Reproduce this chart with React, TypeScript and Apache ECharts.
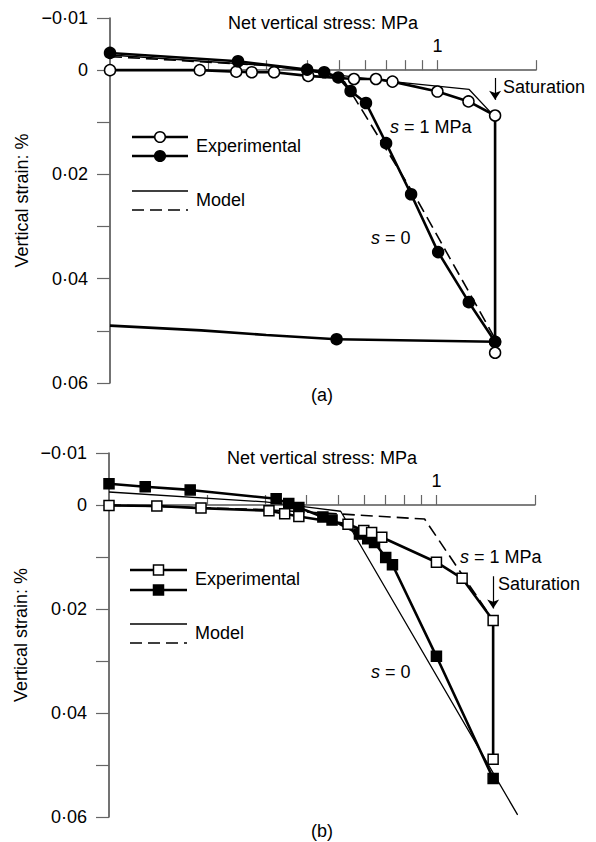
import React, { useEffect, useRef } from "react";
import * as echarts from "echarts";

const FONT = "'Liberation Sans', Arial, Helvetica, sans-serif";

// ---- axes ----
const X_MIN = 0.1;
const X_MAX = 2;
const Y_MIN = -0.01;
const Y_MAX = 0.06;
const Y_STEP = 0.01;
const xTickValues = [0.2, 0.3, 0.4, 0.5, 0.6, 0.7, 0.8, 0.9, 1, 2];
const xLabelValues = [1];
const yLabelValues = [-0.01, 0, 0.02, 0.04, 0.06];
const yLabelTexts = ["\u22120\u00b701", "0", "0\u00b702", "0\u00b704", "0\u00b706"];

// ---- panel (a) ----
const aOpenX = [0.1, 0.188, 0.243, 0.271, 0.317, 0.403, 0.556, 0.649, 0.729, 1.0, 1.244, 1.5, 1.5];
const aOpenY = [0, 0, 0.0003, 0.0004, 0.0004, 0.0011, 0.0017, 0.0017, 0.0022, 0.0041, 0.006, 0.0087, 0.0542];
const aFilledX = [0.1, 0.246, 0.4, 0.451, 0.498, 0.543, 0.605, 0.697, 0.831, 1.005, 1.247, 1.5];
const aFilledY = [-0.0033, -0.0017, -0.0001, 0.0004, 0.0014, 0.004, 0.0063, 0.014, 0.0238, 0.0349, 0.0445, 0.0521];
const aUnloadX = [1.5, 0.492];
const aUnloadY = [0.0521, 0.0516];
const aUnloadExtX = [0.492, 0.3, 0.19, 0.1];
const aUnloadExtY = [0.0516, 0.0508, 0.0499, 0.049];
const aModelSolidX = [0.1, 0.3, 0.45, 0.73, 1.25, 1.5];
const aModelSolidY = [-0.0029, -0.0009, 0.0006, 0.0022, 0.0037, 0.009];
const aModelDashX = [0.1, 0.3, 0.45, 0.52, 0.855, 1.5];
const aModelDashY = [-0.0026, -0.0009, 0.0003, 0.0022, 0.0242, 0.0515];
const aSaturation = { x: 1.5, from: 0.0015, to: 0.0057 };

// ---- panel (b) ----
const bOpenX = [0.1, 0.14, 0.191, 0.308, 0.344, 0.38, 0.537, 0.6, 0.634, 0.681, 1.0, 1.198, 1.49, 1.49];
const bOpenY = [0.0001, 0.0002, 0.0006, 0.0011, 0.0017, 0.0022, 0.0037, 0.0049, 0.0053, 0.0062, 0.011, 0.0141, 0.0222, 0.0489];
const bFilledX = [0.1, 0.129, 0.177, 0.324, 0.354, 0.38, 0.45, 0.48, 0.582, 0.617, 0.647, 0.7, 0.734, 1.0, 1.49];
const bFilledY = [-0.0041, -0.0035, -0.0029, -0.0012, -0.0003, 0.0005, 0.0023, 0.0029, 0.0056, 0.0065, 0.0072, 0.0101, 0.0115, 0.0291, 0.0526];
const bModelSolidX = [0.1, 0.3, 0.51, 1.77];
const bModelSolidY = [-0.0025, -0.0006, 0.0012, 0.0596];
const bModelDashX = [0.1, 0.3, 0.5, 0.92, 1.49];
const bModelDashY = [0.0, 0.0009, 0.0017, 0.0027, 0.0222];
const bSaturation = { x: 1.49, from: 0.0137, to: 0.0199 };

const pairs = (xs: number[], ys: number[]) => xs.map((x, i) => [x, ys[i]]);

const GRIDS = [
  { left: 110, top: 18, width: 426, height: 365 },
  { left: 109, top: 453, width: 426, height: 364 },
];

function xAxisCfg(i: number) {
  const g = GRIDS[i];
  const offset = -g.height * (0 - Y_MIN) / (Y_MAX - Y_MIN);
  return {
    type: "log",
    logBase: 10,
    gridIndex: i,
    min: X_MIN,
    max: X_MAX,
    position: "top",
    offset,
    name: "Net vertical stress: MPa",
    nameLocation: "middle",
    nameGap: 38,
    nameTextStyle: { fontSize: 18, color: "#000", fontFamily: FONT },
    axisLine: { show: true, onZero: false, lineStyle: { color: "#555", width: 1.5 } },
    axisTick: { show: true, inside: false, length: 10, customValues: xTickValues, lineStyle: { color: "#666", width: 1.2 } },
    minorTick: { show: false },
    axisLabel: {
      show: true,
      customValues: xLabelValues,
      margin: 15,
      fontSize: 18,
      color: "#000",
      fontFamily: FONT,
      formatter: (v: number) => String(v),
    },
    splitLine: { show: false },
  };
}

function yAxisCfg(i: number) {
  return {
    type: "value",
    gridIndex: i,
    inverse: true,
    min: Y_MIN,
    max: Y_MAX,
    interval: Y_STEP,
    position: "left",
    name: "Vertical strain: %",
    nameLocation: "middle",
    nameGap: 79,
    nameRotate: 90,
    nameTextStyle: { fontSize: 18, color: "#000", fontFamily: FONT },
    axisLine: { show: true, onZero: false, lineStyle: { color: "#444", width: 1.5 } },
    axisTick: { show: true, length: 13, lineStyle: { color: "#666", width: 1.2 } },
    axisLabel: {
      margin: 22,
      fontSize: 18,
      color: "#000",
      fontFamily: FONT,
      formatter: (v: number) => {
        const k = yLabelValues.findIndex((t) => Math.abs(t - v) < 1e-9);
        return k >= 0 ? yLabelTexts[k] : "";
      },
    },
    splitLine: { show: false },
  };
}

function expSeries(i: number, xs: number[], ys: number[], symbol: string, filled: boolean, extra: any = {}) {
  return {
    type: "line",
    xAxisIndex: i,
    yAxisIndex: i,
    data: pairs(xs, ys),
    symbol,
    symbolSize: symbol === "rect" ? 10 : 11,
    showSymbol: true,
    showAllSymbol: true,
    clip: false,
    z: 5,
    lineStyle: { color: "#000", width: 2.6 },
    itemStyle: { color: filled ? "#000" : "#fff", borderColor: "#000", borderWidth: 1.5 },
    ...extra,
  };
}

function plainSeries(i: number, xs: number[], ys: number[], width: number, dashed: boolean) {
  return {
    type: "line",
    xAxisIndex: i,
    yAxisIndex: i,
    data: pairs(xs, ys),
    symbol: "none",
    clip: false,
    z: 3,
    lineStyle: { color: "#000", width, type: dashed ? [12, 6] : "solid" },
  };
}

function satMark(s: { x: number; from: number; to: number }) {
  return {
    silent: true,
    symbol: ["none", "arrow"],
    symbolSize: 9,
    label: { show: false },
    lineStyle: { color: "#000", width: 1.2, type: "solid" },
    data: [[{ coord: [s.x, s.from] }, { coord: [s.x, s.to] }]],
  };
}

const txt = (x: number, y: number, text: string, align = "left", rich = false) => ({
  type: "text",
  x,
  y,
  style: {
    text,
    fill: "#000",
    fontSize: 18,
    fontFamily: FONT,
    align,
    verticalAlign: "middle",
    ...(rich ? { rich: { i: { fontStyle: "italic", fontSize: 18, fontFamily: FONT, fill: "#000" } } } : {}),
  },
});

const hline = (x1: number, x2: number, y: number, w: number, dash?: number[]) => ({
  type: "line",
  shape: { x1, y1: y, x2, y2: y },
  style: { stroke: "#000", lineWidth: w, lineDash: dash || null },
});

function legend(x1: number, x2: number, yExp1: number, yExp2: number, yMod1: number, yMod2: number, square: boolean) {
  const cx = (x1 + x2) / 2;
  const mk = (y: number, filled: boolean) =>
    square
      ? { type: "rect", shape: { x: cx - 5, y: y - 5, width: 10, height: 10 }, style: { fill: filled ? "#000" : "#fff", stroke: "#000", lineWidth: 1.5 } }
      : { type: "circle", shape: { cx, cy: y, r: 5.3 }, style: { fill: filled ? "#000" : "#fff", stroke: "#000", lineWidth: 1.5 } };
  return [
    hline(x1, x2, yExp1, 2.6),
    mk(yExp1, false),
    hline(x1, x2, yExp2, 2.6),
    mk(yExp2, true),
    txt(x2 + 8, (yExp1 + yExp2) / 2 - 1, "Experimental"),
    hline(x1, x2, yMod1, 1.3),
    hline(x1, x2, yMod2, 1.6, [12, 6]),
    txt(x2 + 8, (yMod1 + yMod2) / 2 - 1, "Model"),
  ];
}

export default function App() {
  const ref = useRef<HTMLDivElement>(null);
  useEffect(() => {
    document.body.style.margin = "0";
    if (!ref.current) return;
    const chart = echarts.init(ref.current, undefined, { renderer: "svg" });
    const option: any = {
      animation: false,
      backgroundColor: "#fff",
      textStyle: { fontFamily: FONT },
      grid: GRIDS.map((g) => ({ ...g, containLabel: false, outerBoundsMode: "none" })),
      xAxis: [xAxisCfg(0), xAxisCfg(1)],
      yAxis: [yAxisCfg(0), yAxisCfg(1)],
      series: [
        // panel (a)
        plainSeries(0, aModelSolidX, aModelSolidY, 1.3, false),
        plainSeries(0, aModelDashX, aModelDashY, 1.6, true),
        plainSeries(0, aUnloadExtX, aUnloadExtY, 2.6, false),
        expSeries(0, aOpenX, aOpenY, "circle", false, { markLine: satMark(aSaturation) }),
        expSeries(0, aUnloadX, aUnloadY, "circle", true),
        expSeries(0, aFilledX, aFilledY, "circle", true),
        // panel (b)
        plainSeries(1, bModelSolidX, bModelSolidY, 1.3, false),
        plainSeries(1, bModelDashX, bModelDashY, 1.6, true),
        expSeries(1, bFilledX, bFilledY, "rect", true),
        expSeries(1, bOpenX, bOpenY, "rect", false, { markLine: satMark(bSaturation) }),
      ],
      graphic: [
        ...legend(132, 188, 137, 156, 191, 210, false),
        ...legend(130, 187, 570, 590, 624, 643, true),
        txt(390, 127, "{i|s} = 1 MPa", "left", true),
        txt(371, 238, "{i|s} = 0", "left", true),
        txt(503, 87, "Saturation"),
        txt(322, 395, "(a)", "center"),
        txt(460, 557, "{i|s} = 1 MPa", "left", true),
        txt(371, 672, "{i|s} = 0", "left", true),
        txt(498, 584, "Saturation"),
        txt(322, 831, "(b)", "center"),
      ],
    };
    chart.setOption(option);
    return () => chart.dispose();
  }, []);
  return <div ref={ref} style={{ width: 596, height: 842 }} />;
}
